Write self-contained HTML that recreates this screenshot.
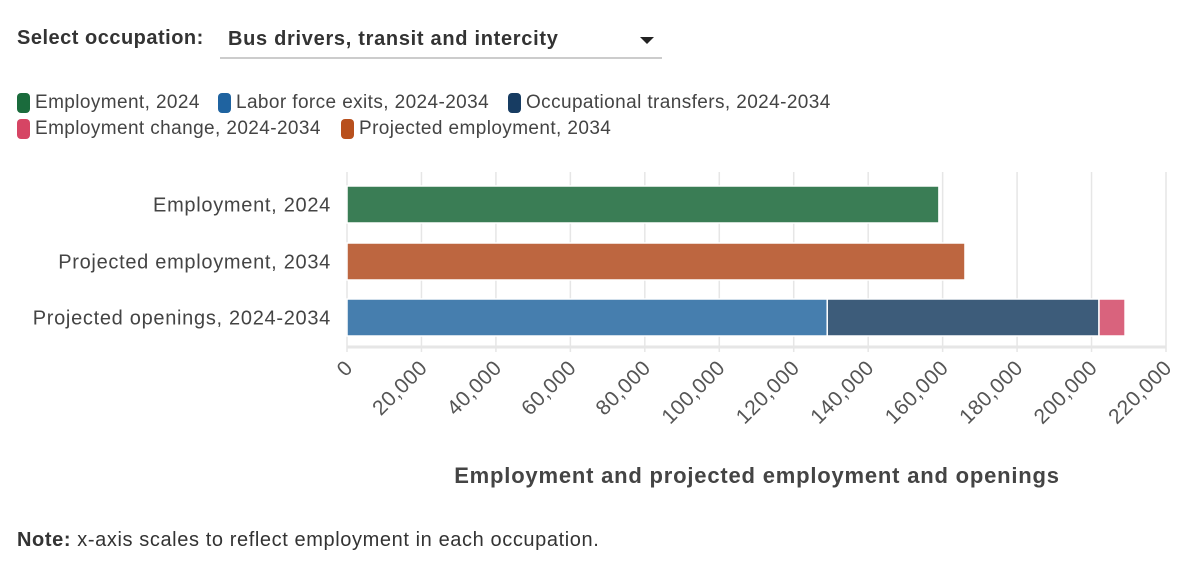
<!DOCTYPE html>
<html><head><meta charset="utf-8"><style>
body{margin:0;width:1200px;height:569px;background:#fff;font-family:"Liberation Sans",sans-serif;overflow:hidden;position:relative}
.lbl{position:absolute;left:17px;top:27px;font-size:20px;font-weight:bold;color:#333;letter-spacing:0.5px}
.sel{position:absolute;left:220px;top:25px;width:442px;height:34px;border-bottom:2px solid #ccc;font-size:20px;font-weight:bold;color:#333;box-sizing:border-box;padding:3px 8px;letter-spacing:0.7px}
.arrow{position:absolute;right:8px;top:12px;width:0;height:0;border-left:7px solid transparent;border-right:7px solid transparent;border-top:7px solid #222}
.leg{position:absolute;font-size:19px;color:#444;display:flex;align-items:center;letter-spacing:0.4px}
.sw{width:13px;height:20px;border-radius:4px;margin-right:5px;display:inline-block}
.note{position:absolute;left:17px;top:529px;font-size:20px;color:#333;letter-spacing:0.6px}
</style></head><body>
<div class="lbl">Select occupation:</div>
<div class="sel">Bus drivers, transit and intercity<div class="arrow"></div></div>
<div class="leg" style="left:17px;top:92px"><span class="sw" style="background:#1a6b3c"></span>Employment, 2024</div>
<div class="leg" style="left:218px;top:92px"><span class="sw" style="background:#1f63a0"></span>Labor force exits, 2024-2034</div>
<div class="leg" style="left:508px;top:92px"><span class="sw" style="background:#173c62"></span>Occupational transfers, 2024-2034</div>
<div class="leg" style="left:17px;top:118px"><span class="sw" style="background:#d64564"></span>Employment change, 2024-2034</div>
<div class="leg" style="left:341px;top:118px"><span class="sw" style="background:#b8501d"></span>Projected employment, 2034</div>
<svg id="chart" width="1200" height="569" style="position:absolute;left:0;top:0"></svg>
<div class="note"><b>Note:</b> x-axis scales to reflect employment in each occupation.</div>
<script>
const categories=["Employment, 2024","Projected employment, 2034","Projected openings, 2024-2034"];
const employment2024=[159000];
const projected2034=[166000];
const laborExits=[129000];
const occTransfers=[73000];
const empChange=[7000];
const ticks=[0,20000,40000,60000,80000,100000,120000,140000,160000,180000,200000,220000];
const NS="http://www.w3.org/2000/svg";
const svg=document.getElementById('chart');
const x0=347,x1=1166,xmax=220000;
const X=v=>x0+(v/xmax)*(x1-x0);
const rowY=[186,243,299],bh=37;
function mk(t,a){const e=document.createElementNS(NS,t);for(const k in a)e.setAttribute(k,a[k]);svg.appendChild(e);return e;}
ticks.forEach((t,i)=>{
 const g=mk('line',{x1:X(t),x2:X(t),y1:172,y2:352,stroke:'#e6e6e6','stroke-width':1.5});
 
 
 const tx=mk('text',{x:X(t)+7,y:369,'font-size':21,fill:'#555','text-anchor':'end','letter-spacing':0.5,transform:`rotate(-45 ${X(t)+7} 369)`});
 tx.textContent=t.toLocaleString('en-US');
 
 
});
const ax=mk('line',{x1:x0,x2:x1,y1:347,y2:347,stroke:'#e6e6e6','stroke-width':3});


categories.forEach((c,i)=>{
 const t=mk('text',{x:331,y:rowY[i]+bh/2+7,'font-size':20,fill:'#444','text-anchor':'end','letter-spacing':0.7});
 t.textContent=c;
 
 
});
function bar(a,b,y,col,name){
 const r=mk('rect',{x:X(a),y:y,width:X(b)-X(a),height:bh,fill:col,stroke:'#fff','stroke-width':1.5});
 
 
}
bar(0,employment2024[0],rowY[0],'#3a7d55','bar-employment-2024');
bar(0,projected2034[0],rowY[1],'#bd6640','bar-projected-employment');
bar(0,laborExits[0],rowY[2],'#467eae','bar-labor-force-exits');
bar(laborExits[0],laborExits[0]+occTransfers[0],rowY[2],'#3d5c7a','bar-occupational-transfers');
bar(laborExits[0]+occTransfers[0],laborExits[0]+occTransfers[0]+empChange[0],rowY[2],'#d9637d','bar-employment-change');
const tt=mk('text',{x:757,y:483,'font-size':22,'font-weight':'bold',fill:'#444','text-anchor':'middle','letter-spacing':0.8});
tt.textContent='Employment and projected employment and openings';


</script>
</body></html>
